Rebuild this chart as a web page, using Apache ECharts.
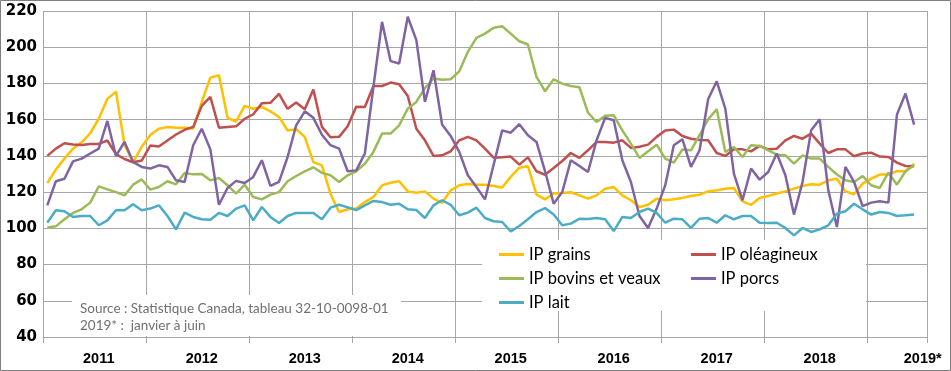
<!DOCTYPE html>
<html><head><meta charset="utf-8">
<script src="https://cdn.jsdelivr.net/npm/echarts@6/dist/echarts.min.js"></script>
<style>html,body{margin:0;padding:0;background:#fff}#c{width:951px;height:371px}</style>
</head><body><div id="c"></div>
<script>
// ---- data ----
const years = ['2011','2012','2013','2014','2015','2016','2017','2018','2019'];
const yearLabels = ['2011','2012','2013','2014','2015','2016','2017','2018','2019*'];
const monthCodes = ['01','02','03','04','05','06','07','08','09','10','11','12'];
const seriesNames = ['IP grains','IP oléagineux','IP bovins et veaux','IP porcs','IP lait'];
const yTicks = {min: 40, max: 220, step: 20};

const grains = [
  125, 132.5, 138.5, 144, 147.5, 152.5, 160.5, 171.5, 175.5, 146, 136.5, 145,
  151.5, 155, 156, 155.6, 155.5, 155, 169.8, 183.2, 184.5, 161, 159, 167.6,
  166, 167, 164.6, 161.5, 154, 154.7, 150.5, 136.6, 134.8, 119, 109, 110.5,
  111, 114.5, 117.3, 123.7, 125.2, 126, 120.4, 119.7, 120.4, 116.4, 114, 121,
  123.8, 124.5, 124.1, 124.1, 123.4, 122.5, 128.4, 133.5, 134.3, 118.6, 116, 119.2,
  119.5, 119.9, 118.2, 116.4, 118.2, 121.9, 122.8, 118.2, 115.5, 111.8, 113, 116.4,
  115.5, 116, 116.8, 117.9, 118.6, 120.4, 121, 121.9, 122.3, 114.9, 113, 116.8,
  117.9, 119.2, 120.4, 121.9, 123.4, 124.3, 124.1, 126.5, 127.4, 120.4, 118.8, 124.7,
  127.4, 129.7, 129.7, 131.5, 131.5, 135.7
];
const oleagineux = [
  140, 144, 147, 146.3, 146, 146.6, 146.6, 148.5, 141, 138.3, 136.5, 137.4,
  145.7, 145.2, 148.5, 151.8, 154.4, 156, 167.6, 172.6, 155.6, 156, 156.3, 160.5,
  163, 169, 169.3, 174.2, 166, 169.5, 165.8, 176.7, 156, 150.3, 150.5, 156.4,
  167.2, 167, 178.6, 178.6, 180.5, 179.6, 173.1, 155, 148.6, 140, 140.3, 142.5,
  148.6, 150.5, 148.6, 144, 139, 139.2, 139.6, 135.2, 139.2, 131.5, 129.6, 133.3,
  137.2, 141.6, 138.9, 143.1, 147.7, 147.7, 147.3, 148.6, 144.4, 145, 146.2, 150.5,
  154, 154.5, 151, 149.5, 148.8, 148.6, 141.6, 140, 143.6, 143.6, 142.5, 145.5,
  143.6, 144, 148.6, 151, 149.5, 152.3, 146.8, 141.6, 143.6, 143.6, 139.8, 141.3,
  141.8, 139.6, 139.4, 136.3, 134.4, 134.3
];
const bovins = [
  100.4, 101.1, 105, 108.5, 110.5, 114.2, 123.2, 121.5, 120, 118.2, 124.1, 127,
  121.4, 122.8, 126, 124.3, 130.6, 129.8, 130, 126.5, 127.8, 123.8, 119.2, 124.1,
  117.3, 116, 118.6, 120, 126, 128.9, 131.5, 133.7, 130.6, 129.3, 125.6, 129.3,
  131.5, 135.7, 142.2, 152.3, 152.3, 156.9, 166.1, 169.8, 177.5, 182.7, 182.1, 182.3,
  186.7, 197.4, 205.2, 207.5, 210.7, 211.6, 207.5, 203.3, 201.5, 183.6, 175.7, 182.3,
  179.9, 178.6, 177.9, 163.9, 158.7, 162.1, 162.4, 154.1, 146.8, 138.9, 142.5, 146.2,
  138.5, 136.3, 143.5, 143.1, 151.4, 160.2, 165.7, 142.2, 144.9, 139.4, 145.9, 145.5,
  143.1, 140.7, 140.3, 135.7, 140.3, 138.5, 138.5, 133.9, 129.7, 126.5, 125.6, 128.9,
  123.8, 122.3, 130.8, 124.1, 131.5, 134.8
];
const porcs = [
  112.7, 126, 127.4, 137, 138.5, 141.3, 144, 159.3, 140, 147.7, 136.6, 133.9,
  133, 134.8, 133.9, 126.5, 125.6, 145.9, 155, 143.6, 113, 122.3, 126.2, 125,
  128.4, 137.6, 123.4, 125.6, 139.4, 156.9, 164.6, 161, 151.7, 145.9, 144, 131.5,
  132, 141.3, 178.1, 214, 192.3, 191, 216.8, 203.9, 169.8, 187.3, 157.3, 151,
  142.2, 129.3, 122.8, 116, 135, 154.1, 152.8, 157.5, 151.4, 147.7, 131.5, 113.6,
  120, 137.6, 134.4, 131.1, 148.6, 161, 159.7, 137.6, 125.6, 106.8, 100.2, 110.9,
  123.8, 145.9, 149.2, 133.9, 143.1, 171.3, 181.2, 166.1, 130.2, 115.5, 133, 126.9,
  131.1, 141.3, 129.3, 107.6, 125.6, 154.1, 160.2, 121, 100.7, 133.9, 125.6, 112.3,
  114.2, 114.9, 114.2, 162.8, 174.4, 157.3
];
const lait = [
  103.1, 110, 109.4, 106.3, 106.8, 106.8, 101.7, 104.4, 110, 110, 113.3, 110,
  110.9, 112.7, 106.8, 99.4, 108.7, 106.3, 105, 104.8, 108.5, 106.8, 110.9, 112.7,
  104.4, 111.8, 106.3, 102.9, 106.8, 108.5, 108.5, 108.5, 105, 111.4, 113, 111.6,
  110.1, 112.7, 115.1, 114.5, 113, 113.6, 110.5, 110.1, 105.7, 112.7, 115.5, 113,
  107.2, 108.7, 111.4, 105.7, 103.9, 103.5, 98.3, 101.3, 105, 109, 111.2, 107.6,
  101.7, 102.6, 105.3, 105.2, 105.7, 105, 98.5, 106.3, 105.7, 109, 110.9, 108.5,
  103.1, 105.3, 105, 100.2, 105.3, 105.7, 103.1, 107.2, 105, 106.8, 106.8, 103.1,
  102.9, 103.1, 100.2, 96.1, 100.2, 98, 99.4, 101.7, 108.1, 109.4, 113.6, 110.5,
  107.6, 109, 108.5, 106.8, 107.2, 107.7
];
const seriesData = [grains, oleagineux, bovins, porcs, lait];
const colors = ['#FFC000', '#C0504D', '#9BBB59', '#8064A2', '#4BACC6'];

// ---- categories: Jan 2011 .. Jul 2019 (last slot left empty, as in the source) ----
const categories = [];
years.forEach(y => monthCodes.forEach(m => categories.push(y + '-' + m)));
const cats = categories.slice(0, 103);
const labelMap = {};
years.forEach((y, k) => { labelMap[y + '-07'] = yearLabels[k]; });

const grid = '#a6a6a6';
const legendText = {fontFamily: 'Lato', fontSize: 16.5, color: '#000'};
const chart = echarts.init(document.getElementById('c'), null, {renderer: 'canvas'});
chart.setOption({
  animation: false,
  backgroundColor: '#fff',
  grid: {left: 43, right: 24, top: 11, bottom: 34, containLabel: false},
  xAxis: {
    type: 'category', data: cats, boundaryGap: true,
    axisLine: {show: true, lineStyle: {color: grid, width: 1}},
    axisTick: {show: true, length: 6, interval: (i) => i % 12 === 0, lineStyle: {color: grid}},
    axisLabel: {
      interval: (i, v) => labelMap[v] !== undefined,
      formatter: (v) => labelMap[v] || '',
      margin: 14, color: '#000', fontWeight: 'bold', fontSize: 14.5,
      fontFamily: 'Liberation Sans'
    },
    splitLine: {show: true, interval: (i) => i % 12 === 0, lineStyle: {color: grid, width: 1}}
  },
  yAxis: {
    type: 'value', min: yTicks.min, max: yTicks.max, interval: yTicks.step,
    axisLine: {show: false}, axisTick: {show: false},
    axisLabel: {margin: 6, color: '#000', fontWeight: 'bold', fontSize: 15, fontFamily: 'DejaVu Sans'},
    splitLine: {lineStyle: {color: grid, width: 1}}
  },
  legend: [
    {data: [seriesNames[0], seriesNames[2], seriesNames[4]], orient: 'vertical', left: 494, top: 241,
     icon: 'rect', itemWidth: 25, itemHeight: 3, itemGap: 7, textStyle: legendText},
    {data: [seriesNames[1], seriesNames[3]], orient: 'vertical', left: 686, top: 241,
     icon: 'rect', itemWidth: 25, itemHeight: 3, itemGap: 7, textStyle: legendText}
  ],
  graphic: [
    {type: 'rect', z: 3, shape: {x: 482, y: 240, width: 384, height: 71}, style: {fill: '#fff'}},
    {type: 'rect', z: 3, shape: {x: 72, y: 295, width: 329, height: 41}, style: {fill: '#fff'}},
    {type: 'text', z: 5, left: 80, top: 300,
     style: {text: 'Source : Statistique Canada, tableau 32-10-0098-01\n2019* :  janvier à juin',
             fill: '#6f6f6f', font: '13.5px Lato', lineHeight: 17}},
    {type: 'rect', z: 10, shape: {x: 0.5, y: 0.5, width: 950, height: 370},
     style: {fill: 'none', stroke: '#7f7f7f', lineWidth: 1}}
  ],
  series: seriesNames.map((n, k) => ({
    name: n, type: 'line', data: seriesData[k], symbol: 'none', showSymbol: false,
    lineStyle: {color: colors[k], width: 2.5}, itemStyle: {color: colors[k]}
  }))
});
</script></body></html>
